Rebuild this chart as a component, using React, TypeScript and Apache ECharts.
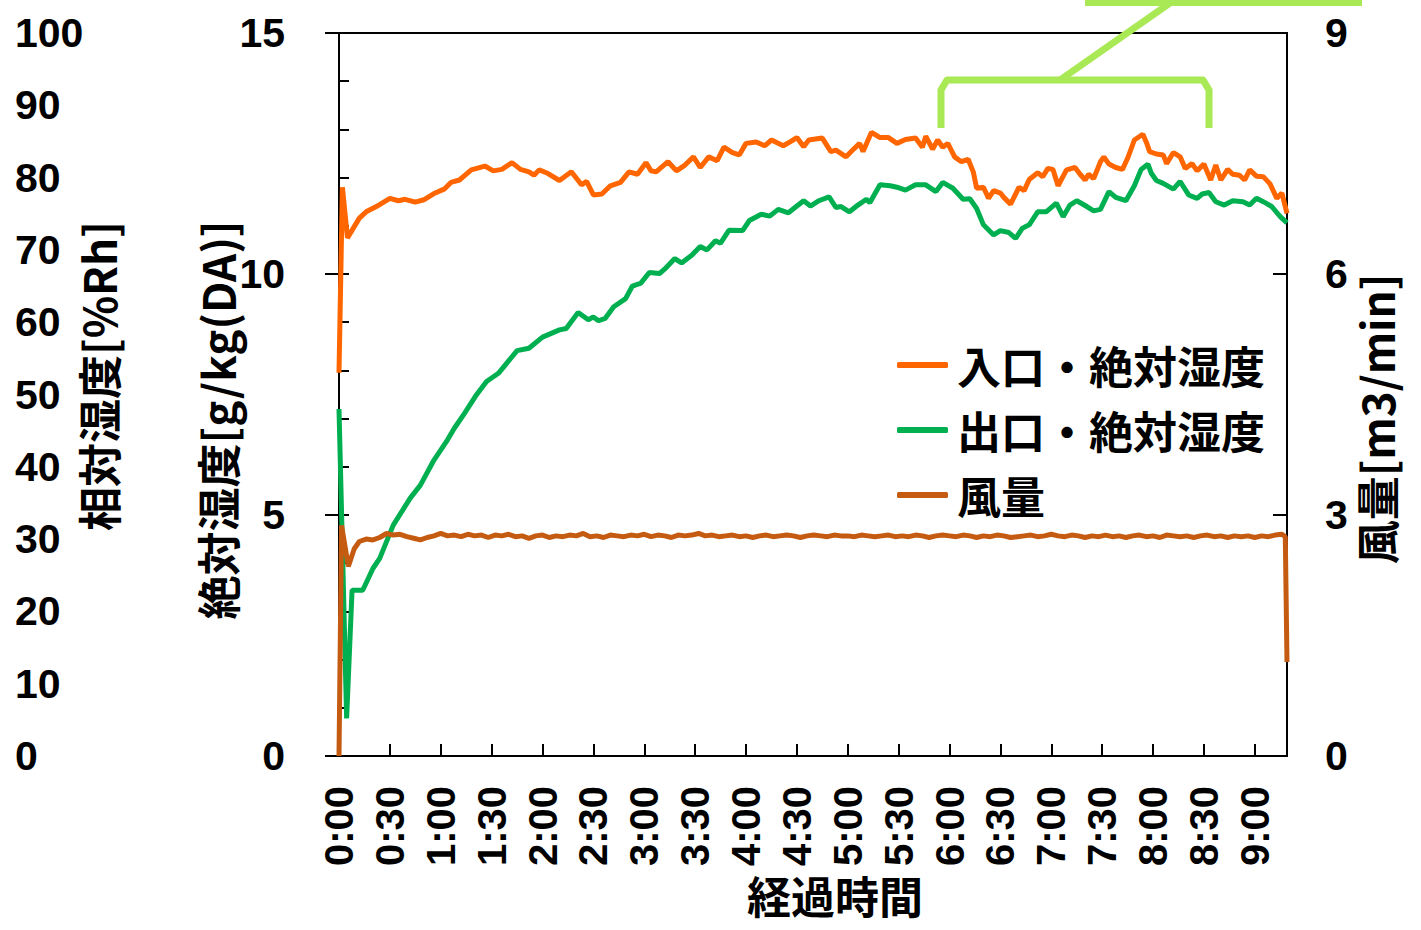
import React, { useEffect, useRef } from "react";
import * as echarts from "echarts";

// [minutes, g/kg(DA)]
const inletHumidity: number[][] = [
  [0, 7.95], [2, 11.8], [5, 10.75], [12, 11.16], [16, 11.29], [22, 11.4], [30, 11.57], [35, 11.52], [39, 11.55],
  [45, 11.49], [50, 11.54], [56, 11.67], [62, 11.76], [66, 11.9], [71, 11.95], [78, 12.16], [86, 12.24], [91, 12.14],
  [96, 12.17], [102, 12.31], [107, 12.17], [112, 12.12], [115, 12.05], [118, 12.16], [123, 12.09], [130, 11.94],
  [137, 12.12], [143, 11.85], [146, 11.92], [150, 11.64], [155, 11.66], [160, 11.83], [166, 11.9], [171, 12.12],
  [176, 12.07], [181, 12.31], [184, 12.14], [187, 12.12], [194, 12.33], [199, 12.14], [204, 12.26], [209, 12.43],
  [213, 12.21], [218, 12.43], [223, 12.35], [227, 12.63], [232, 12.52], [236, 12.47], [240, 12.71], [246, 12.74],
  [251, 12.66], [255, 12.78], [262, 12.66], [266, 12.74], [270, 12.83], [274, 12.64], [277, 12.78], [285, 12.82],
  [290, 12.54], [293, 12.57], [299, 12.43], [302, 12.54], [307, 12.71], [309, 12.54], [314, 12.94], [319, 12.83],
  [324, 12.83], [329, 12.71], [334, 12.79], [340, 12.82], [344, 12.63], [346, 12.86], [350, 12.59], [353, 12.78],
  [356, 12.63], [359, 12.71], [363, 12.43], [367, 12.33], [371, 12.38], [374, 12.12], [376, 11.78], [380, 11.8],
  [383, 11.57], [386, 11.73], [390, 11.68], [392, 11.59], [396, 11.45], [401, 11.8], [404, 11.73], [407, 11.96],
  [412, 12.1], [415, 12.02], [418, 12.19], [421, 12.17], [424, 11.83], [429, 12.16], [434, 12.21], [437, 12.07],
  [440, 11.95], [442, 12.07], [445, 11.98], [449, 12.33], [451, 12.43], [454, 12.28], [458, 12.21], [462, 12.17],
  [465, 12.4], [469, 12.78], [474, 12.9], [476, 12.74], [478, 12.54], [482, 12.49], [486, 12.47], [488, 12.29],
  [492, 12.52], [496, 12.43], [499, 12.19], [503, 12.29], [506, 12.14], [510, 12.28], [514, 11.95], [517, 12.26],
  [520, 11.95], [524, 12.17], [527, 12.07], [531, 12.05], [534, 11.95], [537, 12.16], [541, 12.03], [545, 12.02],
  [549, 11.87], [553, 11.57], [556, 11.68], [559, 11.26],
];

// [minutes, g/kg(DA)]
const outletHumidity: number[][] = [
  [0, 7.2], [4.5, 0.78], [7.7, 3.44], [14, 3.44], [20, 3.89], [24, 4.1], [32, 4.79], [42, 5.35], [48, 5.62],
  [56, 6.14], [64, 6.56], [68, 6.8], [74, 7.11], [81, 7.49], [87, 7.77], [94, 7.94], [105, 8.41], [112, 8.46],
  [120, 8.69], [130, 8.84], [134, 8.87], [141, 9.2], [147, 9.05], [150, 9.11], [153, 9.03], [157, 9.08],
  [162, 9.32], [169, 9.49], [173, 9.75], [178, 9.81], [183, 10.03], [189, 10.01], [192, 10.1], [198, 10.32],
  [202, 10.23], [208, 10.39], [213, 10.57], [217, 10.5], [222, 10.69], [225, 10.64], [230, 10.91], [238, 10.9],
  [242, 11.11], [249, 11.24], [254, 11.2], [259, 11.34], [265, 11.27], [270, 11.41], [274, 11.52], [278, 11.41],
  [283, 11.52], [289, 11.6], [293, 11.38], [296, 11.4], [301, 11.29], [306, 11.43], [311, 11.55], [313, 11.48],
  [319, 11.85], [325, 11.83], [329, 11.8], [334, 11.74], [340, 11.85], [346, 11.85], [352, 11.71], [356, 11.9],
  [362, 11.78], [368, 11.55], [372, 11.56], [376, 11.36], [380, 11.02], [386, 10.81], [390, 10.9], [395, 10.86],
  [399, 10.74], [403, 10.95], [407, 11.02], [412, 11.29], [417, 11.29], [423, 11.47], [427, 11.19], [431, 11.43],
  [435, 11.52], [441, 11.4], [445, 11.31], [449, 11.34], [454, 11.71], [458, 11.59], [464, 11.52], [469, 11.83],
  [473, 12.17], [477, 12.28], [479, 12.09], [482, 11.94], [486, 11.88], [492, 11.76], [496, 11.92], [501, 11.64],
  [506, 11.57], [509, 11.66], [513, 11.69], [517, 11.5], [522, 11.43], [527, 11.52], [533, 11.5], [537, 11.43],
  [541, 11.57], [545, 11.5], [550, 11.4], [555, 11.19], [559, 11.06],
];

// [minutes, m3/min]
const airflow: number[][] = [
  [0, 0], [1.5, 2.87], [5.5, 2.36], [9, 2.58], [12, 2.67], [16, 2.7], [20, 2.69], [24, 2.72], [28, 2.77], [32, 2.75],
  [36, 2.76], [40, 2.73], [44, 2.71], [48, 2.69], [52, 2.72], [56, 2.74], [60, 2.77], [64, 2.74], [68, 2.75],
  [72, 2.73], [76, 2.76], [80, 2.74], [84, 2.75], [88, 2.72], [92, 2.75], [96, 2.74], [100, 2.76], [104, 2.73],
  [108, 2.74], [112, 2.71], [116, 2.74], [120, 2.75], [124, 2.72], [128, 2.74], [132, 2.73], [136, 2.75],
  [140, 2.74], [144, 2.77], [148, 2.73], [152, 2.74], [156, 2.72], [160, 2.75], [164, 2.74], [168, 2.73],
  [172, 2.75], [176, 2.74], [180, 2.76], [184, 2.73], [188, 2.75], [192, 2.74], [196, 2.72], [200, 2.75],
  [204, 2.74], [208, 2.75], [212, 2.77], [216, 2.74], [220, 2.75], [224, 2.73], [228, 2.74], [232, 2.75],
  [236, 2.73], [240, 2.74], [244, 2.72], [248, 2.74], [252, 2.75], [256, 2.73], [260, 2.74], [264, 2.75],
  [268, 2.74], [272, 2.72], [276, 2.74], [280, 2.75], [284, 2.74], [288, 2.73], [292, 2.75], [296, 2.74],
  [300, 2.74], [304, 2.73], [308, 2.75], [312, 2.74], [316, 2.73], [320, 2.74], [324, 2.75], [328, 2.73],
  [332, 2.74], [336, 2.73], [340, 2.75], [344, 2.74], [348, 2.72], [352, 2.74], [356, 2.75], [360, 2.74],
  [364, 2.73], [368, 2.75], [372, 2.74], [376, 2.72], [380, 2.74], [384, 2.73], [388, 2.75], [392, 2.74],
  [396, 2.72], [400, 2.73], [404, 2.74], [408, 2.75], [412, 2.73], [416, 2.74], [420, 2.76], [424, 2.74],
  [428, 2.73], [432, 2.75], [436, 2.74], [440, 2.72], [444, 2.74], [448, 2.73], [452, 2.75], [456, 2.73],
  [460, 2.74], [464, 2.72], [468, 2.74], [472, 2.75], [476, 2.73], [480, 2.74], [484, 2.72], [488, 2.75],
  [492, 2.74], [496, 2.73], [500, 2.74], [504, 2.72], [508, 2.74], [512, 2.75], [516, 2.73], [520, 2.74],
  [524, 2.72], [528, 2.74], [532, 2.73], [536, 2.74], [540, 2.72], [544, 2.74], [548, 2.73], [552, 2.75],
  [556, 2.76], [558, 2.73], [559, 1.17],
];

const seriesNames = ["入口・絶対湿度", "出口・絶対湿度", "風量"];
const seriesColors = ["#FF6600", "#00B050", "#C55A11"];
const xMaxMinutes = 559;

const NUM_FONT = "'Liberation Sans', 'Noto Sans CJK JP', sans-serif";
const CJK_FONT = "'Noto Sans CJK JP', 'Liberation Sans', sans-serif";
const BRACKET = "#A9E955";

function fmtTime(v: number): string {
  if (v % 30 !== 0) return "";
  const h = Math.floor(v / 60);
  const m = v % 60;
  return `${h}:${m < 10 ? "0" + m : m}`;
}

export default function App() {
  const ref = useRef<HTMLDivElement>(null);
  useEffect(() => {
    if (!ref.current) return;
    const chart = echarts.init(ref.current, undefined, { renderer: "svg" });
    const tickLabel = { fontFamily: NUM_FONT, fontWeight: "bold", fontSize: 41, color: "#000" };
    const rotTitle = (text: string, x: number, y: number) => ({
      type: "text",
      x,
      y,
      rotation: Math.PI / 2,
      silent: true,
      style: {
        text,
        align: "center",
        verticalAlign: "middle",
        fill: "#000",
        font: `bold 44px ${CJK_FONT}`,
      },
    });
    chart.setOption({
      animation: false,
      backgroundColor: "#fff",
      grid: {
        left: 339,
        right: 134,
        top: 33,
        bottom: 174,
        show: true,
        borderColor: "#000",
        borderWidth: 2,
        backgroundColor: "transparent",
      },
      legend: {
        data: seriesNames,
        orient: "vertical",
        left: 897,
        top: 343,
        padding: 0,
        itemGap: 21,
        itemWidth: 51,
        itemHeight: 6,
        icon: "roundRect",
        textStyle: {
          fontFamily: CJK_FONT,
          fontWeight: "bold",
          fontSize: 44,
          lineHeight: 44,
          color: "#000",
          padding: [0, 0, 0, 4],
        },
      },
      xAxis: {
        type: "value",
        min: 0,
        max: xMaxMinutes,
        interval: 30,
        splitLine: { show: false },
        axisLine: { lineStyle: { color: "#000", width: 2 } },
        axisTick: { inside: true, length: 12, lineStyle: { color: "#000", width: 2 } },
        axisLabel: {
          ...tickLabel,
          fontSize: 40,
          rotate: 90,
          margin: 30,
          showMaxLabel: false,
          formatter: (v: number) => fmtTime(v),
        },
      },
      yAxis: [
        {
          type: "value",
          min: 0,
          max: 15,
          interval: 5,
          position: "left",
          splitLine: { show: false },
          axisLine: { show: true, lineStyle: { color: "#000", width: 2 } },
          axisTick: { show: true, inside: false, length: 14, lineStyle: { color: "#000", width: 2 } },
          axisLabel: { ...tickLabel, margin: 54 },
        },
        {
          type: "value",
          min: 0,
          max: 9,
          interval: 3,
          position: "right",
          splitLine: { show: false },
          axisLine: { show: true, lineStyle: { color: "#000", width: 2 } },
          axisTick: { show: true, inside: true, length: 14, lineStyle: { color: "#000", width: 2 } },
          axisLabel: { ...tickLabel, margin: 38 },
        },
        {
          type: "value",
          min: 0,
          max: 100,
          interval: 10,
          position: "left",
          offset: 324,
          splitLine: { show: false },
          axisLine: { show: false },
          axisTick: { show: false },
          axisLabel: { ...tickLabel, margin: 0, align: "left" },
        },
        {
          type: "value",
          min: 0,
          max: 15,
          interval: 1,
          position: "left",
          splitLine: { show: false },
          axisLine: { show: false },
          axisTick: { show: true, inside: true, length: 10, lineStyle: { color: "#000", width: 2 } },
          axisLabel: { show: false },
        },
      ],
      series: [
        {
          name: seriesNames[0],
          type: "line",
          yAxisIndex: 0,
          data: inletHumidity,
          symbol: "none",
          z: 4,
          lineStyle: { color: seriesColors[0], width: 5 },
          itemStyle: { color: seriesColors[0] },
        },
        {
          name: seriesNames[1],
          type: "line",
          yAxisIndex: 0,
          data: outletHumidity,
          symbol: "none",
          z: 3,
          lineStyle: { color: seriesColors[1], width: 5 },
          itemStyle: { color: seriesColors[1] },
        },
        {
          name: seriesNames[2],
          type: "line",
          yAxisIndex: 1,
          data: airflow,
          symbol: "none",
          z: 3,
          lineStyle: { color: seriesColors[2], width: 5 },
          itemStyle: { color: seriesColors[2] },
        },
      ],
      graphic: [
        rotTitle("相対湿度[%Rh]", 98, 376),
        rotTitle("絶対湿度[g/kg(DA)]", 217, 420),
        rotTitle("風量[m3/min]", 1376, 419),
        {
          type: "text",
          x: 835,
          y: 895,
          silent: true,
          style: {
            text: "経過時間",
            align: "center",
            verticalAlign: "middle",
            fill: "#000",
            font: `bold 44px ${CJK_FONT}`,
          },
        },
        {
          type: "polyline",
          silent: true,
          z: 10,
          shape: {
            points: [
              [941, 128],
              [941, 90],
              [947, 80],
              [1203, 80],
              [1209, 90],
              [1209, 128],
            ],
          },
          style: { stroke: BRACKET, lineWidth: 7, fill: null, lineJoin: "round" },
        },
        {
          type: "line",
          silent: true,
          z: 10,
          shape: { x1: 1060, y1: 80, x2: 1180, y2: -4 },
          style: { stroke: BRACKET, lineWidth: 7 },
        },
        {
          type: "rect",
          silent: true,
          z: 11,
          shape: { x: 1085, y: 0, width: 277, height: 6 },
          style: { fill: BRACKET },
        },
      ],
    });
    return () => chart.dispose();
  }, []);
  return (
    <div
      ref={ref}
      style={{ position: "fixed", left: 0, top: 0, width: 1421, height: 930 }}
    />
  );
}
